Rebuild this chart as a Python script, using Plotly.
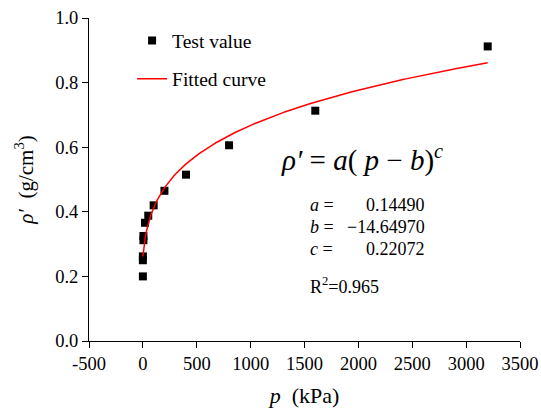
import numpy as np
import plotly.graph_objects as go

# Test data
p_test = [0, 0, 0, 5, 5, 20, 50, 100, 200, 400, 800, 1600, 3200]
rho_test = [0.200, 0.250, 0.262, 0.312, 0.325, 0.366, 0.388, 0.420, 0.465, 0.515, 0.606, 0.713, 0.912]

# Fit parameters shown on the chart
a_par, b_par, c_par = 0.14490, -14.64970, 0.22072
r2 = 0.965

x_range = [-500, 3500]
y_range = [0, 1.0]
x_tickvals = [-500, 0, 500, 1000, 1500, 2000, 2500, 3000, 3500]
x_ticktext = ["-500", "0", "500", "1000", "1500", "2000", "2500", "3000", "3500"]
x_minorvals = [-250, 250, 750, 1250, 1750, 2250, 2750, 3250]
y_tickvals = [0.0, 0.2, 0.4, 0.6, 0.8, 1.0]
y_minorvals = [0.1, 0.3, 0.5, 0.7, 0.9]

p_fit = np.linspace(0, 3200, 400)
rho_fit = a_par * (p_fit - b_par) ** c_par

FONT = "Liberation Serif"

fig = go.Figure()
fig.add_trace(go.Scatter(
    x=p_test, y=rho_test, mode="markers", name="Test value",
    marker=dict(symbol="square", size=8, color="black"),
    legendgroup="g1", cliponaxis=False))
fig.add_trace(go.Scatter(
    x=p_fit, y=rho_fit, mode="lines", name="Fitted curve",
    line=dict(color="#ff0000", width=1.5), legendgroup="g2"))

axis_common = dict(
    showline=True, linecolor="black", linewidth=1, mirror=False,
    ticks="outside", ticklen=6, tickcolor="black", tickwidth=1,
    showgrid=False, zeroline=False, automargin=False,
    tickfont=dict(family=FONT, size=18.5, color="black"),
)

fig.update_layout(
    xaxis=dict(range=x_range, tickmode="array", tickvals=x_tickvals, ticktext=x_ticktext,
               title=dict(text="<i>p</i>  (kPa)", font=dict(family=FONT, size=22, color="black")),
               **axis_common),
    yaxis=dict(range=y_range, tickmode="array", tickvals=y_tickvals, tickformat=".1f",
               title=dict(text="<i>ρ′</i>  (g/cm<sup>3</sup>)", font=dict(family=FONT, size=21, color="black")),
               **axis_common),
)

# minor ticks (outside, 3 px) drawn as pixel-sized shapes anchored on the axes
minor_shapes = []
for v in x_minorvals:
    minor_shapes.append(dict(type="line", xref="x", yref="y", ysizemode="pixel", yanchor=y_range[0],
                             x0=v, x1=v, y0=0, y1=-3, line=dict(color="black", width=1)))
for v in y_minorvals:
    minor_shapes.append(dict(type="line", xref="x", yref="y", xsizemode="pixel", xanchor=x_range[0],
                             x0=0, x1=-3, y0=v, y1=v, line=dict(color="black", width=1)))

ann_font = dict(family=FONT, size=18, color="black")
annotations = [
    dict(x=0.633, y=0.565, xref="paper", yref="paper",
         text="<i>ρ′</i> = <i>a</i>( <i>p</i> − <i>b</i>)<sup><i>c</i></sup>",
         font=dict(family=FONT, size=29, color="black"), showarrow=False, xanchor="center", yanchor="middle"),
]
labels = ["<i>a</i> =", "<i>b</i> =", "<i>c</i> ="]
values = [f"{a_par:.5f}", f"−{abs(b_par):.5f}", f"{c_par:.5f}"]
ys = [0.42, 0.352, 0.284]
for lab, val, yy in zip(labels, values, ys):
    annotations.append(dict(x=0.508, y=yy, xref="paper", yref="paper", text=lab, font=ann_font,
                            showarrow=False, xanchor="left", yanchor="middle"))
    annotations.append(dict(x=0.784, y=yy, xref="paper", yref="paper", text=val, font=ann_font,
                            showarrow=False, xanchor="right", yanchor="middle"))
annotations.append(dict(x=0.508, y=0.172, xref="paper", yref="paper", text=f"R<sup>2</sup>={r2:.3f}",
                        font=ann_font, showarrow=False, xanchor="left", yanchor="middle"))

fig.update_layout(
    width=541, height=408,
    margin=dict(l=89, r=21, t=18, b=67),
    paper_bgcolor="white", plot_bgcolor="white",
    font=dict(family=FONT, color="black"),
    legend=dict(x=0.1, y=0.99, xanchor="left", yanchor="top", bgcolor="rgba(0,0,0,0)",
                font=dict(family=FONT, size=19.5, color="black"),
                traceorder="grouped", tracegroupgap=10),
    annotations=annotations,
    shapes=minor_shapes,
)

fig.write_html("out.html")
